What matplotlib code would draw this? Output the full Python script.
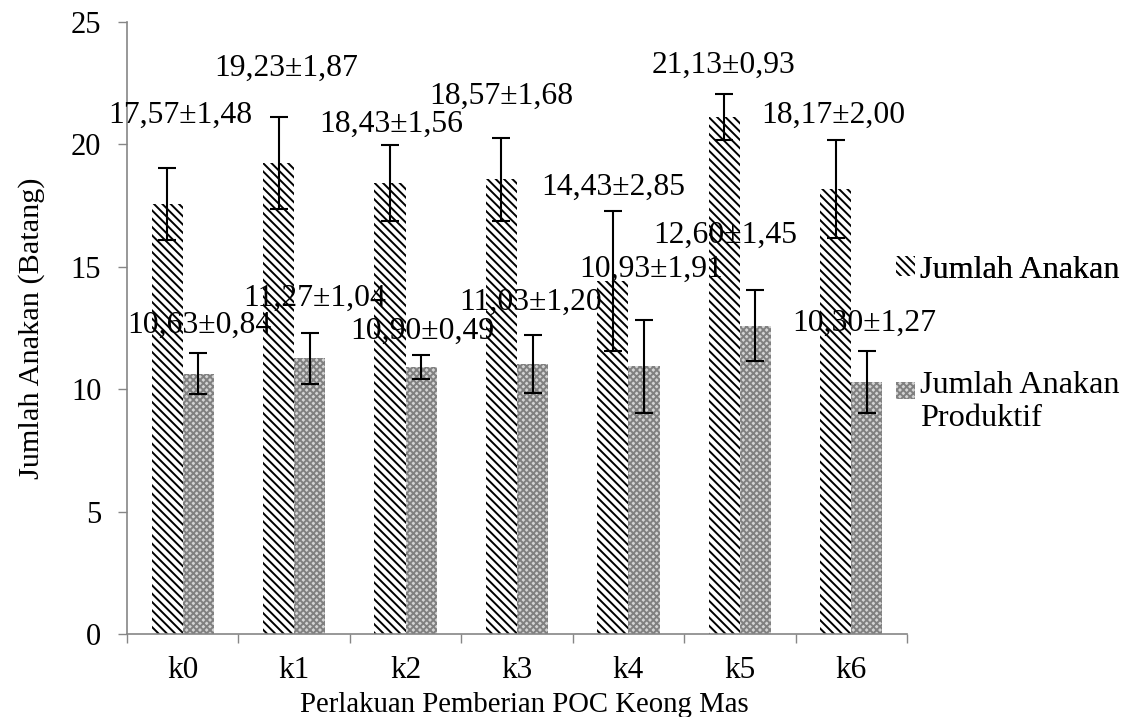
import numpy as np
import matplotlib
matplotlib.use("Agg")
import matplotlib.pyplot as plt
from matplotlib.patches import Patch, Rectangle
from matplotlib.legend_handler import HandlerPatch

plt.rcParams['font.family'] = ['Liberation Serif', 'DejaVu Serif']
plt.rcParams['hatch.linewidth'] = 1.4

perlakuan = ['k0', 'k1', 'k2', 'k3', 'k4', 'k5', 'k6']
anakan = [17.57, 19.23, 18.43, 18.57, 14.43, 21.13, 18.17]
anakan_sd = [1.48, 1.87, 1.56, 1.68, 2.85, 0.93, 2.00]
produktif = [10.63, 11.27, 10.90, 11.03, 10.93, 12.60, 10.30]
produktif_sd = [0.84, 1.04, 0.49, 1.20, 1.91, 1.45, 1.27]

# where the data labels sit (label layout)
lbl1_x = [-0.02, -0.07, -0.13, -0.14, -0.14, -0.15, -0.16]
lbl1_y = [21.2, 23.1, 20.8, 21.95, 18.25, 23.25, 21.2]
lbl2_x = [0.15, 0.18, 0.15, 0.12, 0.2, -0.13, 0.12]
lbl2_y = [12.6, 13.7, 12.35, 13.55, 14.9, 16.3, 12.7]

fig = plt.figure(figsize=(11.23, 7.17), dpi=100)
ax = fig.add_axes([127/1123, 1-634/717, 780/1123, 612/717])

x = np.arange(len(perlakuan))
w = 0.28
err_kw = dict(ecolor='black', elinewidth=1.5, capsize=6.5, capthick=1.5)

ax.bar(x - w/2, anakan, w, yerr=anakan_sd, facecolor='white', edgecolor='black',
       linewidth=0, hatch='\\\\\\\\', error_kw=err_kw)
ax.bar(x + w/2, produktif, w, yerr=produktif_sd, facecolor='#d4d4d4', edgecolor='#808080',
       linewidth=0, hatch='xxxxx', error_kw=err_kw)

fs = 22.8
for i in range(len(perlakuan)):
    ax.text(x[i] + lbl1_x[i], lbl1_y[i], f"{anakan[i]:.2f}±{anakan_sd[i]:.2f}".replace('.', ','),
            ha='center', va='center', fontsize=fs)
    ax.text(x[i] + lbl2_x[i], lbl2_y[i], f"{produktif[i]:.2f}±{produktif_sd[i]:.2f}".replace('.', ','),
            ha='center', va='center', fontsize=fs)

ax.set_xlim(-0.5, len(perlakuan) - 0.5)
ax.set_ylim(0, 25)
ax.set_yticks([0, 5, 10, 15, 20, 25])
ax.set_xticks(x)
ax.set_xticklabels(perlakuan)
ax.set_xticks(np.arange(len(perlakuan) + 1) - 0.5, minor=True)
ax.tick_params(axis='x', which='major', length=0, labelsize=22.5, pad=16)
ax.tick_params(axis='x', which='minor', length=6.5, width=1, color='#868686', direction='out')
ax.tick_params(axis='y', length=6.5, width=1, color='#868686', direction='out', labelsize=22, pad=12)

for s in ['top', 'right']:
    ax.spines[s].set_visible(False)
for s in ['left', 'bottom']:
    ax.spines[s].set_color('#868686')
    ax.spines[s].set_linewidth(1.2)

ax.set_ylabel('Jumlah Anakan (Batang)', fontsize=21.8, va='center')
ax.yaxis.set_label_coords((32-127)/780, 0.5)
ax.set_xlabel('Perlakuan Pemberian POC Keong Mas', fontsize=20.7, va='center')
ax.xaxis.set_label_coords((524-127)/780, (634-705)/612)


def top_patch(legend, orig_handle, xdescent, ydescent, width, height, fontsize):
    h = 0.55 * fontsize
    return Rectangle((-xdescent, -ydescent + height - h), width, h)


h1 = Patch(facecolor='white', edgecolor='black', linewidth=0, hatch='\\\\\\\\')
h2 = Patch(facecolor='#d4d4d4', edgecolor='#808080', linewidth=0, hatch='xxxxx')
lfs = 23.2
leg1 = fig.legend([h1], ['Jumlah Anakan'], loc='center left', bbox_to_anchor=(896/1123, 1-270/717),
                  frameon=False, fontsize=lfs, handlelength=0.6, handleheight=0.55,
                  handletextpad=0.15, borderpad=0, borderaxespad=0)
leg2 = fig.legend([h2], ['Jumlah Anakan\nProduktif'], loc='center left', bbox_to_anchor=(896/1123, 1-402/717),
                  frameon=False, fontsize=lfs, handlelength=0.6, handleheight=1.6,
                  handletextpad=0.15, borderpad=0, borderaxespad=0,
                  handler_map={h2: HandlerPatch(patch_func=top_patch)})
fig.add_artist(leg1)

fig.savefig('out.png', dpi=100)
